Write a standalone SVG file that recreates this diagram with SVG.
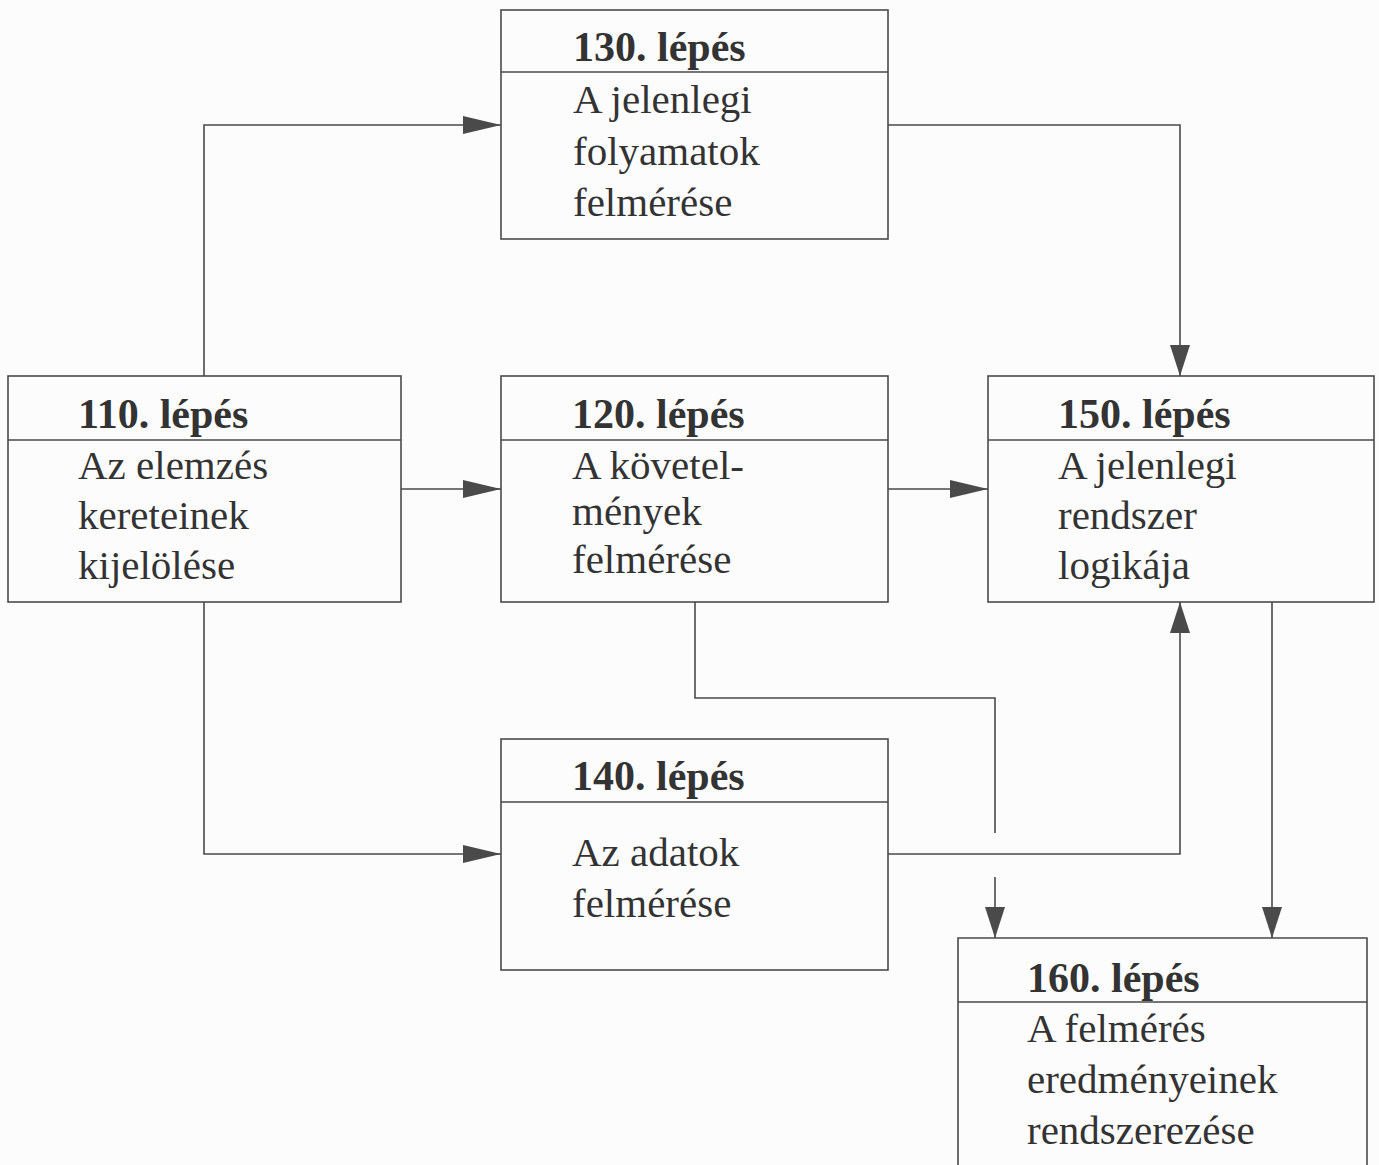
<svg xmlns="http://www.w3.org/2000/svg" width="1379" height="1165" viewBox="0 0 1379 1165">
  <style>
    .box { fill: none; stroke: #4a4a4a; stroke-width: 1.6; }
    .div { stroke: #4a4a4a; stroke-width: 1.6; }
    .title { font-family: "Liberation Serif", "Times New Roman", serif; font-weight: bold; font-size: 42px; fill: #333; }
    .body { font-family: "Liberation Serif", "Times New Roman", serif; font-size: 41px; fill: #333; }
    .wire { fill: none; stroke: #4a4a4a; stroke-width: 1.6; }
    .h { marker-end: url(#ah); }
    .v { marker-end: url(#av); }
  </style>
  <defs>
    <!-- arrowheads: long slim triangles, one for horizontal runs, one for vertical runs -->
    <marker id="ah" markerUnits="userSpaceOnUse" markerWidth="38" markerHeight="18" refX="38" refY="9" orient="auto">
      <path d="M0,0 L38,9 L0,18 Z" fill="#4a4a4a"/>
    </marker>
    <marker id="av" markerUnits="userSpaceOnUse" markerWidth="31" markerHeight="20" refX="31" refY="10" orient="auto">
      <path d="M0,0 L31,10 L0,20 Z" fill="#4a4a4a"/>
    </marker>
  </defs>

  <rect width="1379" height="1165" fill="#fcfcfc"/>

  <g id="connectors">
    <path class="wire h" d="M204,376 V125 H501"/>
    <path class="wire v" d="M888,125 H1180 V376"/>
    <path class="wire h" d="M401,489 H501"/>
    <path class="wire h" d="M888,489 H988"/>
    <path class="wire" d="M695,602 V698 H995 V833"/>
    <path class="wire v" d="M995,877 V938"/>
    <path class="wire h" d="M204,602 V854 H501"/>
    <path class="wire v" d="M888,854 H1180 V602"/>
    <path class="wire v" d="M1272,602 V938"/>
  </g>

  <g id="step130">
    <rect class="box" x="501" y="10" width="387" height="229"/>
    <line class="div" x1="501" y1="72" x2="888" y2="72"/>
    <text class="title" x="573" y="61">130. lépés</text>
    <text class="body" x="573" y="113">A jelenlegi</text>
    <text class="body" x="573" y="165">folyamatok</text>
    <text class="body" x="573" y="216">felmérése</text>
  </g>

  <g id="step110">
    <rect class="box" x="8" y="376" width="393" height="226"/>
    <line class="div" x1="8" y1="440" x2="401" y2="440"/>
    <text class="title" x="78" y="428">110. lépés</text>
    <text class="body" x="78" y="479">Az elemzés</text>
    <text class="body" x="78" y="529">kereteinek</text>
    <text class="body" x="78" y="579">kijelölése</text>
  </g>

  <g id="step120">
    <rect class="box" x="501" y="376" width="387" height="226"/>
    <line class="div" x1="501" y1="440" x2="888" y2="440"/>
    <text class="title" x="572" y="428">120. lépés</text>
    <text class="body" x="572" y="479">A követel-</text>
    <text class="body" x="572" y="525">mények</text>
    <text class="body" x="572" y="573">felmérése</text>
  </g>

  <g id="step150">
    <rect class="box" x="988" y="376" width="386" height="226"/>
    <line class="div" x1="988" y1="440" x2="1374" y2="440"/>
    <text class="title" x="1058" y="428">150. lépés</text>
    <text class="body" x="1058" y="479">A jelenlegi</text>
    <text class="body" x="1058" y="529">rendszer</text>
    <text class="body" x="1058" y="579">logikája</text>
  </g>

  <g id="step140">
    <rect class="box" x="501" y="739" width="387" height="231"/>
    <line class="div" x1="501" y1="802" x2="888" y2="802"/>
    <text class="title" x="572" y="790">140. lépés</text>
    <text class="body" x="572" y="866">Az adatok</text>
    <text class="body" x="572" y="917">felmérése</text>
  </g>

  <g id="step160">
    <path class="box" d="M958,1166 V938 H1367 V1166"/>
    <line class="div" x1="958" y1="1002" x2="1367" y2="1002"/>
    <text class="title" x="1027" y="992">160. lépés</text>
    <text class="body" x="1027" y="1042">A felmérés</text>
    <text class="body" x="1027" y="1093">eredményeinek</text>
    <text class="body" x="1027" y="1144">rendszerezése</text>
  </g>
</svg>
